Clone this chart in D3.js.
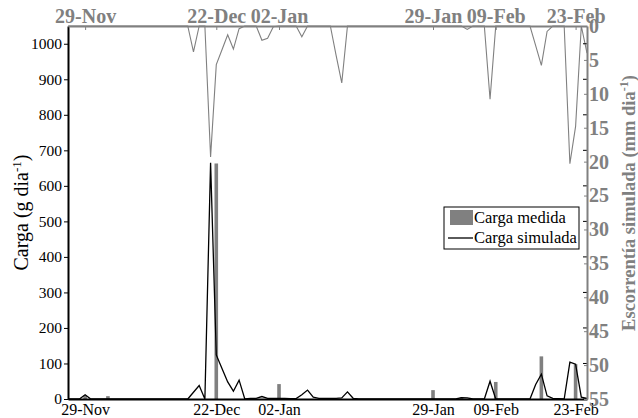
<!DOCTYPE html>
<html>
<head>
<meta charset="utf-8">
<script src="https://cdn.jsdelivr.net/npm/d3@7"></script>
<style>
  body { margin: 0; background: #fff; }
  svg { display: block; font-family: "Liberation Serif", "Times New Roman", serif; }
</style>
</head>
<body>
<svg id="chart" width="638" height="418"></svg>
<script>
// daily series, starting on the first day of the x domain
var startDay = "2010-11-26";
var endDay = "2011-02-25";

// simulated load (g dia-1), one value per day
var cargaSimulada = [
  0, 0, 0, 12, 0, 0, 0, 0, 0, 0,
  0, 0, 0, 0, 0, 0, 0, 0, 0, 0,
  0, 0, 19, 38, 0, 665, 124, 86, 48, 22,
  53, 0, 2, 2, 7, 2, 2, 2, 2, 1,
  1, 12, 25, 5, 2, 2, 2, 2, 3, 20,
  2, 0, 0, 0, 0, 0, 0, 0, 0, 0,
  0, 0, 0, 0, 0, 0, 0, 0, 0, 4,
  3, 0, 0, 0, 50, 0, 0, 0, 0, 0,
  0, 0, 41, 70, 9, 2, 1, 0, 104, 98,
  5, 2
];

// simulated runoff (mm dia-1), one value per day
var escorrentia = [
  0, 0, 0, 0, 0, 0, 0, 0, 0, 0,
  0, 0, 0, 0, 0, 0, 0, 0, 0, 0,
  0, 0, 3.8, 0, 0, 19.3, 5.7, 3.5, 1.3, 3.4,
  0.4, 0, 0, 0, 2.1, 1.8, 0.1, 0, 0, 0,
  0, 1.6, 0, 0, 0, 0, 0, 4.3, 8.4, 0,
  0, 0, 0, 0, 0, 0, 0, 0, 0, 0,
  0, 0, 0, 0, 0, 0, 0, 0, 0, 0,
  0.5, 0, 0, 0, 10.8, 0, 0, 0, 0, 0,
  0, 0, 2.9, 5.8, 0.8, 0, 0, 0, 20.3, 14.8,
  0, 4.0
];

// measured load (g dia-1)
var medidaFechas = ["2010-11-29", "2010-12-03", "2010-12-22", "2011-01-02", "2011-01-29",
                    "2011-02-03", "2011-02-09", "2011-02-17", "2011-02-23"];
var cargaMedida = [10, 8, 663, 42, 25, 5, 48, 120, 98];

var tickFechas = ["2010-11-29", "2010-12-22", "2011-01-02", "2011-01-29", "2011-02-09", "2011-02-23"];
var leftTicks = [0, 100, 200, 300, 400, 500, 600, 700, 800, 900, 1000];
var rightTicks = [0, 5, 10, 15, 20, 25, 30, 35, 40, 45, 50, 55];

var gray = "#808080";
var parse = d3.utcParse("%Y-%m-%d");
var fmt = d3.utcFormat("%d-%b");

var plotL = 68, plotR = 587, plotT = 26, plotB = 399;
var svg = d3.select("#chart");

var x = d3.scaleUtc().domain([parse(startDay), parse(endDay)]).range([plotL, plotR]);
var y = d3.scaleLinear().domain([0, 1050]).range([plotB, plotT]);
var y2 = d3.scaleLinear().domain([0, 55]).range([plotT, plotB]);

var day0 = parse(startDay);
var simData = cargaSimulada.map(function(v, i) { return [d3.utcDay.offset(day0, i), v]; });
var runData = escorrentia.map(function(v, i) { return [d3.utcDay.offset(day0, i), v]; });
var barData = cargaMedida.map(function(v, i) { return [parse(medidaFechas[i]), v]; });
var ticks = tickFechas.map(parse);

// bars
var bw = 3.6;
svg.append("g").selectAll("rect").data(barData)
  .enter().append("rect")
  .attr("x", function(d) { return x(d[0]) - bw / 2; })
  .attr("y", function(d) { return y(d[1]); })
  .attr("width", bw)
  .attr("height", function(d) { return y(0) - y(d[1]); })
  .attr("fill", gray);

// simulated load
svg.append("path").datum(simData)
  .attr("fill", "none").attr("stroke", "#000").attr("stroke-width", 1.3)
  .attr("d", d3.line().x(function(d) { return x(d[0]); }).y(function(d) { return y(d[1]); }));

// runoff hanging from top
svg.append("path").datum(runData)
  .attr("fill", "none").attr("stroke", gray).attr("stroke-width", 1.1)
  .attr("d", d3.line().x(function(d) { return x(d[0]); }).y(function(d) { return y2(d[1]); }));

function styleAxis(g, color, size, weight) {
  g.attr("font-family", null).attr("font-size", null);
  g.selectAll("text").attr("font-size", size).attr("font-weight", weight).attr("fill", color);
}

// left axis
var gl = svg.append("g").attr("transform", "translate(" + plotL + ",0)")
  .call(d3.axisLeft(y).tickValues(leftTicks).tickFormat(d3.format("d"))
    .tickSize(4).tickSizeOuter(0).tickPadding(2));
gl.select(".domain").attr("stroke-width", 2);
styleAxis(gl, "#000", "15.5px", "normal");

// bottom axis
var gb = svg.append("g").attr("transform", "translate(0," + plotB + ")")
  .call(d3.axisBottom(x).tickValues(ticks).tickFormat(fmt).tickSize(0).tickSizeOuter(0).tickPadding(5));
gb.select(".domain").attr("stroke-width", 2);
styleAxis(gb, "#000", "16px", "normal");

// top axis (gray, bold labels)
var gt = svg.append("g").attr("transform", "translate(0," + plotT + ")")
  .call(d3.axisTop(x).tickValues(ticks).tickFormat(fmt).tickSize(-4).tickSizeOuter(0).tickPadding(3));
gt.select(".domain").attr("stroke", gray).attr("stroke-width", 2);
gt.selectAll(".tick line").attr("stroke", gray);
styleAxis(gt, gray, "20px", "bold");

// left ticks mirrored on the right side
svg.append("g").selectAll("line").data(leftTicks)
  .enter().append("line")
  .attr("x1", plotR - 4).attr("x2", plotR)
  .attr("y1", function(d) { return y(d); }).attr("y2", function(d) { return y(d); })
  .attr("stroke", "#000");

// right axis (gray)
var gr = svg.append("g").attr("transform", "translate(" + plotR + ",0)")
  .call(d3.axisRight(y2).tickValues(rightTicks).tickSize(-3).tickSizeOuter(0).tickPadding(2));
gr.select(".domain").attr("stroke", gray).attr("stroke-width", 2);
gr.selectAll(".tick line").attr("stroke", gray);
styleAxis(gr, gray, "20px", "bold");

// axis titles
var tl = svg.append("text")
  .attr("transform", "translate(28," + ((plotT + plotB) / 2) + ") rotate(-90)")
  .attr("text-anchor", "middle").attr("font-size", "20px").attr("fill", "#000");
tl.append("tspan").text("Carga (g dia");
tl.append("tspan").attr("baseline-shift", "super").attr("font-size", "13px").text("-1");
tl.append("tspan").text(")");

var tr = svg.append("text")
  .attr("transform", "translate(635,203) rotate(-90)")
  .attr("text-anchor", "middle").attr("font-size", "18.5px").attr("font-weight", "bold").attr("fill", gray);
tr.append("tspan").text("Escorrentía simulada (mm dia");
tr.append("tspan").attr("baseline-shift", "super").attr("font-size", "12px").text("-1");
tr.append("tspan").text(")");

// legend
var lg = svg.append("g");
lg.append("rect").attr("x", 444).attr("y", 207).attr("width", 135).attr("height", 42)
  .attr("fill", "#fff").attr("stroke", "#000").attr("stroke-width", 1);
lg.append("rect").attr("x", 450).attr("y", 210).attr("width", 23).attr("height", 15).attr("fill", gray);
lg.append("line").attr("x1", 448).attr("x2", 473).attr("y1", 238).attr("y2", 238)
  .attr("stroke", "#000").attr("stroke-width", 1.3);
lg.append("text").attr("x", 474).attr("y", 223).attr("font-size", "16.5px").text("Carga medida");
lg.append("text").attr("x", 474).attr("y", 243).attr("font-size", "16.5px").text("Carga simulada");
</script>
</body>
</html>
